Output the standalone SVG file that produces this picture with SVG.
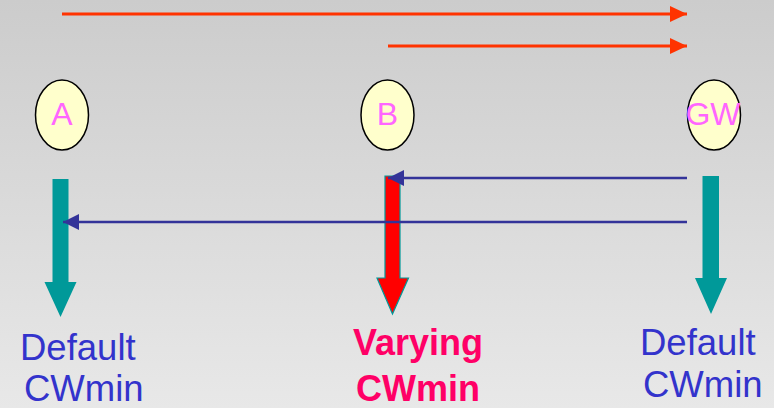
<svg xmlns="http://www.w3.org/2000/svg" width="774" height="408" viewBox="0 0 774 408">
<defs>
<linearGradient id="bg" x1="0" y1="0" x2="0" y2="1">
<stop offset="0" stop-color="#CCCCCC"/>
<stop offset="1" stop-color="#E8E8E8"/>
</linearGradient>
<marker id="redHead" markerUnits="userSpaceOnUse" markerWidth="18" markerHeight="18" refX="17" refY="8" orient="auto">
<path d="M0,0 L17,8 L0,16 Z" fill="#FF3300"/>
</marker>
<marker id="blueHead" markerUnits="userSpaceOnUse" markerWidth="18" markerHeight="18" refX="16" refY="8" orient="auto">
<path d="M0,0 L16,8 L0,16 Z" fill="#333399"/>
</marker>
</defs>
<style>
.node ellipse{fill:#FFFFCC;stroke:#000;stroke-width:1.5}
.node text{font-family:"Liberation Sans",Arial,sans-serif;font-size:32px;fill:#FF66FF;text-anchor:middle}
.red{stroke:#FF3300;stroke-width:3;fill:none}
.blue{stroke:#333399;stroke-width:2.5;fill:none}
.teal{fill:#009999}
.lbl{font-family:"Liberation Sans",Arial,sans-serif;font-size:36.5px;fill:#3333CC}
.lblb{font-family:"Liberation Sans",Arial,sans-serif;font-size:36px;font-weight:bold;fill:#FF0066}
</style>
<rect width="774" height="408" fill="url(#bg)"/>
<g id="node-A" class="node"><ellipse cx="62" cy="115" rx="26.5" ry="35"/><text x="62" y="125">A</text></g>
<g id="node-B" class="node"><ellipse cx="387.5" cy="115" rx="26.5" ry="35"/><text x="387.5" y="125">B</text></g>
<g id="node-GW" class="node"><ellipse cx="714" cy="115" rx="26.5" ry="35"/><text x="713" y="125">GW</text></g>
<g id="connectors">
<line class="red" x1="62" y1="14" x2="687" y2="14" marker-end="url(#redHead)"/>
<line class="red" x1="388" y1="46" x2="687" y2="46" marker-end="url(#redHead)"/>
<path class="teal" d="M52.5,179 H68.5 V282 H76.5 L60.5,317 L44.5,282 H52.5 Z"/>
<path d="M385,176 H400 V278 H408.5 L392.5,314 L377,278 H385 Z" fill="#FF0000" stroke="#009999" stroke-width="1.2"/>
<path class="teal" d="M702.5,176 H719 V278 H727 L711,314 L695,278 H702.5 Z"/>
<line class="blue" x1="687" y1="178" x2="388" y2="178" marker-end="url(#blueHead)"/>
<line class="blue" x1="687" y1="222" x2="63" y2="222" marker-end="url(#blueHead)"/>
</g>
<text class="lbl" x="20" y="360">Default</text>
<text class="lbl" x="24" y="401">CWmin</text>
<text class="lblb" x="353" y="355">Varying</text>
<text class="lblb" x="356" y="401">CWmin</text>
<text class="lbl" x="640" y="355">Default</text>
<text class="lbl" x="643" y="397">CWmin</text>
</svg>
